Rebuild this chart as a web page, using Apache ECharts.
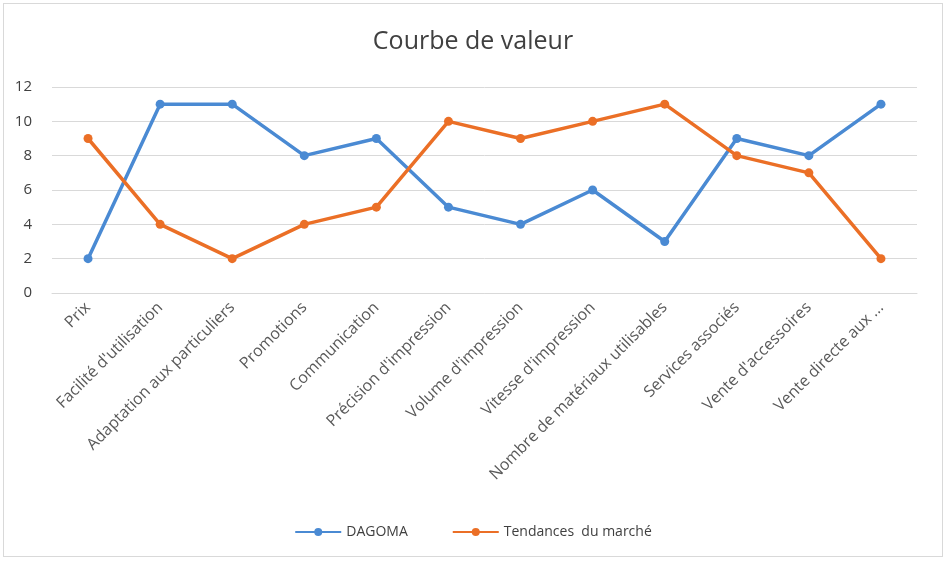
<!DOCTYPE html>
<html>
<head>
    <title>Courbe de valeur</title>
    <script src="https://cdn.jsdelivr.net/npm/echarts@6/dist/echarts.min.js"></script>
    <style>
        body { margin: 0; background: #fff; }
        #frame { position: absolute; left: 3px; top: 3px; width: 938px; height: 552px; border: 1px solid #d9d9d9; }
        #chart { position: absolute; left: 0; top: 0; width: 946px; height: 568px; }
    </style>
</head>
<body>
<div id="frame"></div>
<div id="chart"></div>
<script>
    // données
    var categories = ['Prix', "Facilité d'utilisation", 'Adaptation aux particuliers', 'Promotions',
        'Communication', "Précision d'impression", "Volume d'impression", "Vitesse d'impression",
        'Nombre de matériaux utilisables', 'Services associés', "Vente d'accessoires", 'Vente directe aux ...'];
    var dagoma = [2, 11, 11, 8, 9, 5, 4, 6, 3, 9, 8, 11];
    var tendances = [9, 4, 2, 4, 5, 10, 9, 10, 11, 8, 7, 2];
    var yTicks = [0, 2, 4, 6, 8, 10, 12];

    var font = '"Open Sans", Lato, sans-serif';
    var chart = echarts.init(document.getElementById('chart'));

    var option = {
        animation: false,
        title: {
            text: 'Courbe de valeur',
            left: 'center',
            top: 24,
            textStyle: { color: '#404040', fontSize: 25, fontWeight: 'normal', fontFamily: font }
        },
        legend: {
            bottom: 24,
            left: 'center',
            itemWidth: 46,
            itemHeight: 10,
            itemGap: 44,
            textStyle: { color: '#404040', fontSize: 14, fontFamily: font },
            data: ['DAGOMA', 'Tendances  du marché']
        },
        grid: { left: 52, right: 29, top: 87, bottom: 275 },
        xAxis: {
            type: 'category',
            data: categories,
            boundaryGap: true,
            axisLine: { lineStyle: { color: '#d9d9d9' } },
            axisTick: { show: false },
            axisLabel: {
                rotate: 45,
                interval: 0,
                color: '#595959',
                fontSize: 16,
                fontFamily: font,
                margin: 12
            }
        },
        yAxis: {
            type: 'value',
            min: yTicks[0],
            max: yTicks[yTicks.length - 1],
            interval: 2,
            axisLine: { show: false },
            axisTick: { show: false },
            splitLine: { lineStyle: { color: '#d9d9d9', width: 1 } },
            axisLabel: { color: '#404040', fontSize: 15, fontFamily: font, margin: 20 }
        },
        series: [{
            name: 'DAGOMA',
            type: 'line',
            data: dagoma,
            symbol: 'circle',
            symbolSize: 9,
            itemStyle: { color: '#4a8ad3' },
            lineStyle: { width: 3.5, color: '#4a8ad3' }
        }, {
            name: 'Tendances  du marché',
            type: 'line',
            data: tendances,
            symbol: 'circle',
            symbolSize: 9,
            itemStyle: { color: '#eb6f26' },
            lineStyle: { width: 3.5, color: '#eb6f26' }
        }]
    };

    chart.setOption(option);
</script>
</body>
</html>
